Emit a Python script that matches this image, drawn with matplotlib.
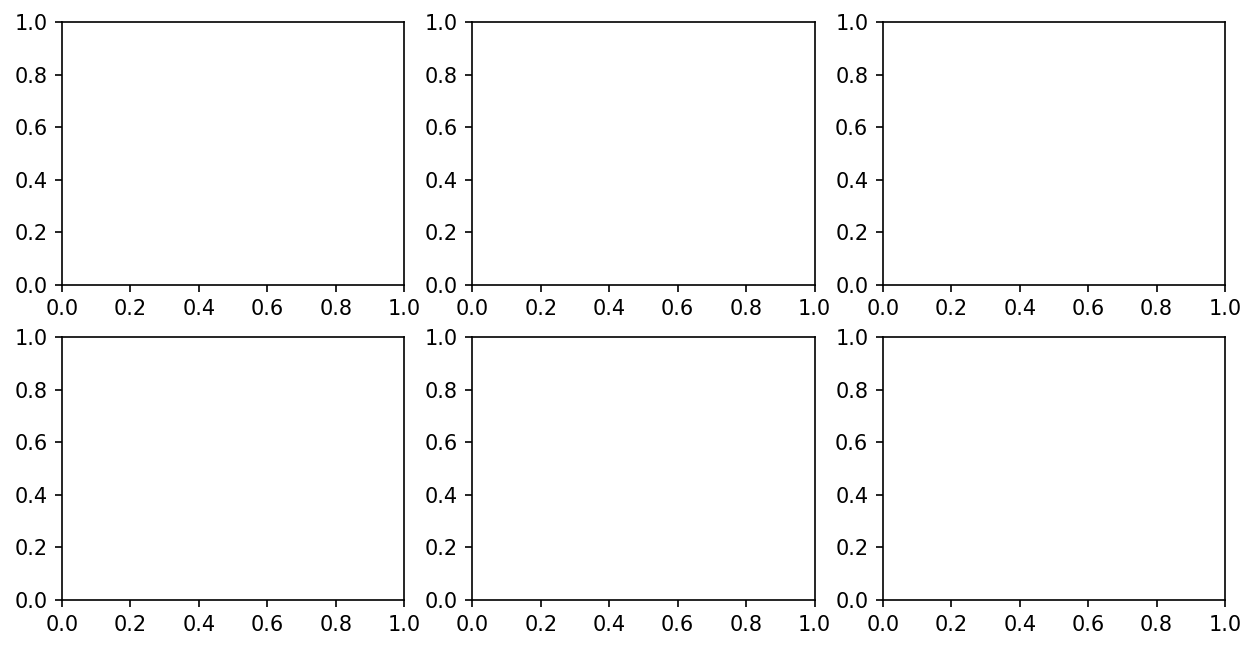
import matplotlib
matplotlib.use('Agg')
import matplotlib.pyplot as plt

# empty 2x3 grid
n_rows = 2
n_cols = 3

fig, axes = plt.subplots(n_rows, n_cols, figsize=(1256 / 150, 650 / 150), dpi=150)
fig.subplots_adjust(left=62 / 1256, right=1225 / 1256,
                    bottom=1 - 600 / 650, top=1 - 22 / 650,
                    wspace=0.2, hspace=0.2)

fig.savefig('out.png', dpi=150)
